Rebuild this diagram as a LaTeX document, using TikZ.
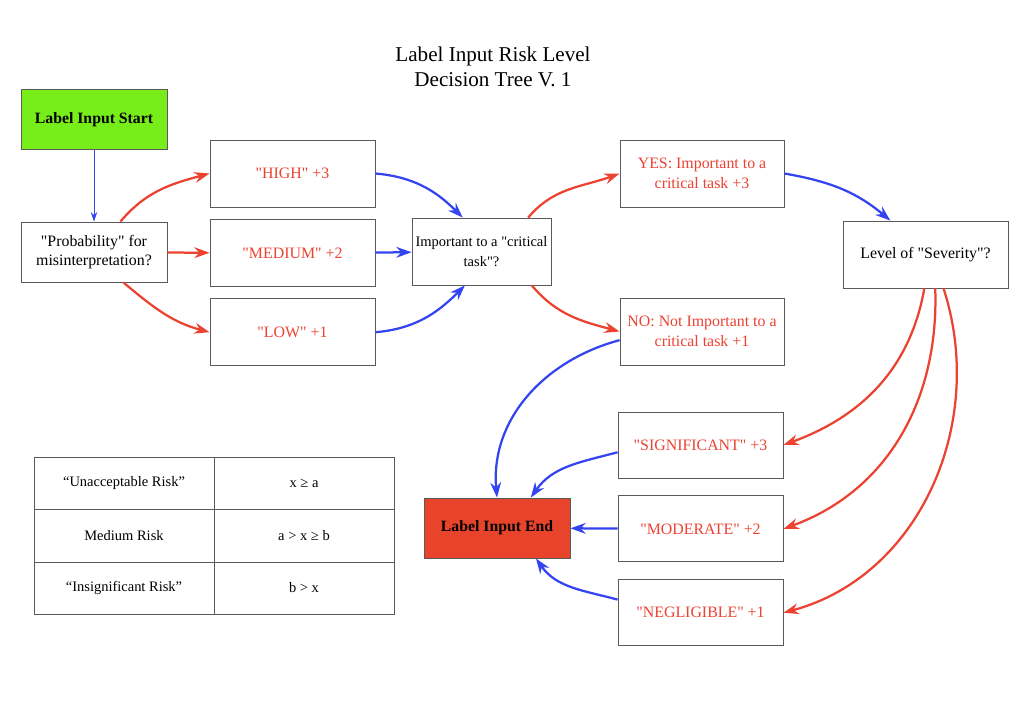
\documentclass[tikz,border=0pt]{standalone}
\usepackage{fontspec}
\setmainfont{Liberation Serif}[Ligatures=TeXOff]
\usepackage{xcolor}
\usepackage{tikz}
\usetikzlibrary{shapes,arrows,arrows.meta,positioning}

\definecolor{startgreen}{RGB}{119,238,26}
\definecolor{endred}{RGB}{232,68,44}
\definecolor{linkred}{RGB}{236,66,50}
\definecolor{linkblue}{RGB}{52,68,240}
\definecolor{boxgrey}{RGB}{90,90,90}

\begin{document}
\begin{tikzpicture}[
    x=0.025cm, y=-0.025cm,
    node distance=0.3cm,
    box/.style={rectangle, draw=boxgrey, line width=0.6pt, fill=white, align=center, font=\fontsize{11.3}{14}\selectfont, minimum width=4.125cm, minimum height=1.675cm, inner sep=2pt},
    choice/.style={box, text=linkred},
    term/.style={box, font=\fontsize{11.2}{14}\selectfont\bfseries, minimum width=3.65cm, minimum height=1.5cm},
    redarrow/.style={-{Stealth[length=3.8mm,width=2.7mm]}, draw=linkred, line width=1.6pt},
    bluearrow/.style={-{Stealth[length=3.8mm,width=2.7mm]}, draw=linkblue, line width=1.6pt},
    cell/.style={font=\fontsize{10.3}{12}\selectfont}
]
    \useasboundingbox (0,0) rectangle (1020,718);

    % title
    \node[align=center, font=\fontsize{15}{17.5}\selectfont] (title) at (493,67) {Label Input Risk Level\\Decision Tree V. 1};

    % left part
    \node[term, fill=startgreen] (start) at (94,119.5) {Label Input Start};
    \node[box, minimum width=3.65cm, minimum height=1.5cm] (prob) at (94,252) {"Probability" for\\misinterpretation?};
    \node[choice] (high) at (292.5,173.5) {"HIGH" +3};
    \node[choice, below=0.3cm of high] (medium) {"MEDIUM" +2};
    \node[choice, below=0.275cm of medium] (low) {"LOW" +1};
    \node[box, font=\fontsize{10.3}{14}\selectfont, inner sep=1pt, minimum width=3.475cm] (critical) at (481.5,251.5) {Important to a "critical\\task"?};

    % right part
    \node[choice, minimum width=4.1cm] (yes) at (702,173.5) {YES: Important to a\\critical task +3};
    \node[choice, minimum width=4.1cm] (no) at (702,331.5) {NO: Not Important to a\\critical task +1};
    \node[box] (severity) at (925.5,254.5) {Level of "Severity"?};
    \node[choice, minimum height=1.65cm] (significant) at (700.5,445) {"SIGNIFICANT" +3};
    \node[choice, minimum height=1.65cm, below=0.425cm of significant] (moderate) {"MODERATE" +2};
    \node[choice, minimum height=1.65cm, below=0.425cm of moderate] (negligible) {"NEGLIGIBLE" +1};
    \node[term, fill=endred] (finish) at (497,528) {Label Input End};

    % risk table
    \draw[boxgrey, line width=0.6pt] (34,457) rectangle (394,614);
    \draw[boxgrey, line width=0.6pt] (214,457) -- (214,614);
    \draw[boxgrey, line width=0.6pt] (34,509) -- (394,509);
    \draw[boxgrey, line width=0.6pt] (34,562) -- (394,562);
    \node[cell] (unacc) at (124,483) {“Unacceptable Risk”};
    \node[cell] (unaccval) at (304,483) {x ≥ a};
    \node[cell] (med) at (124,536) {Medium Risk};
    \node[cell] (medval) at (304,536) {a > x ≥ b};
    \node[cell] (insig) at (124,588) {“Insignificant Risk”};
    \node[cell] (insigval) at (304,588) {b > x};

    % connectors
    \draw[-{Stealth[length=2.4mm,width=1.6mm]}, draw=linkblue, line width=0.7pt] (start) -- (prob);
    \draw[redarrow] (prob.49) to[out=50, in=195] (high.west);
    \draw[redarrow] (prob) -- (medium);
    \draw[redarrow] (prob.-46) to[out=-40, in=165] (low.west);
    \draw[bluearrow] (high.east) to[out=-5, in=135] (critical.119);
    \draw[bluearrow] (medium) -- (critical);
    \draw[bluearrow] (low.east) to[out=5, in=-135] (critical.-116);
    \draw[redarrow] (critical.36) to[out=50, in=200] (yes.west);
    \draw[redarrow] (critical.-34) to[out=-50, in=165] (no.west);
    \draw[bluearrow] (yes.east) to[out=-10, in=140] (severity.136);
    \draw[bluearrow] (no.186) to[out=195, in=95] (finish.north);
    \draw[redarrow] (severity.-92) to[out=-100, in=20] (significant.east);
    \draw[redarrow] (severity.-74) to[out=-88, in=20] (moderate.east);
    \draw[redarrow] (severity.-62) to[out=-72, in=15] (negligible.east);
    \draw[bluearrow] (significant.185) to[out=195, in=55] (finish.42);
    \draw[bluearrow] (moderate) -- (finish);
    \draw[bluearrow] (negligible.171) to[out=165, in=-55] (finish.-38);
\end{tikzpicture}
\end{document}
